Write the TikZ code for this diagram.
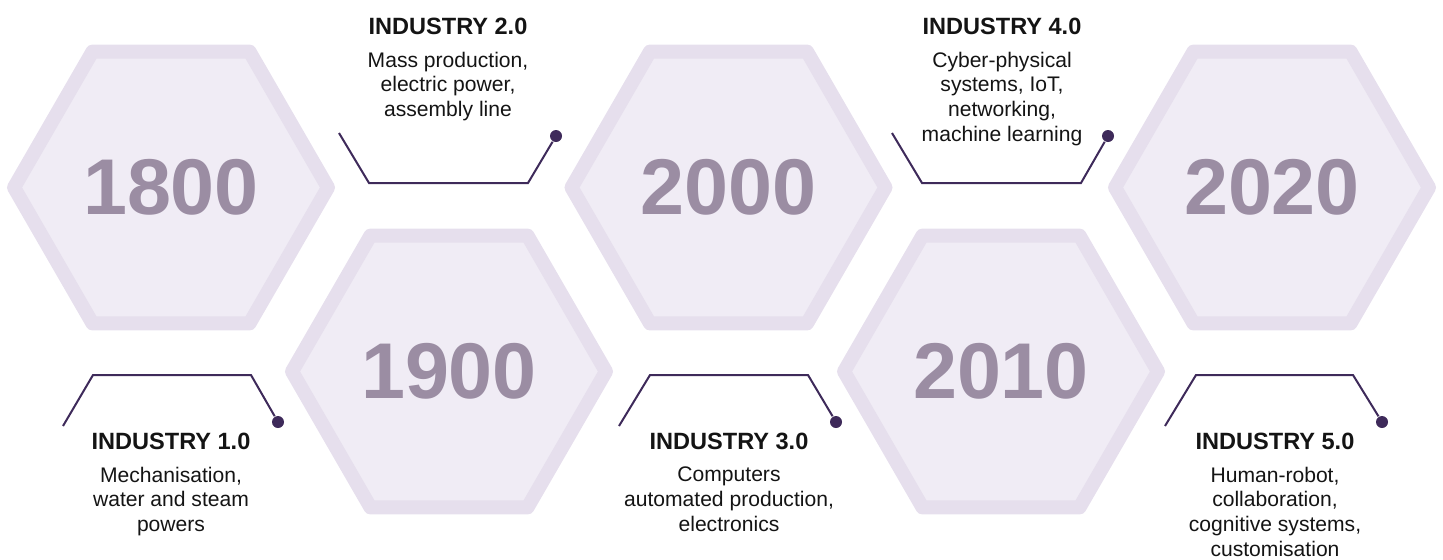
\documentclass[tikz,border=0pt]{standalone}
\usepackage{fontspec}
\setmainfont{Liberation Sans}
\usepackage{xcolor}
\usepackage{tikz}
\usetikzlibrary{shapes.geometric, positioning}
\definecolor{hexborder}{RGB}{230, 223, 237}
\definecolor{hexfill}{RGB}{240, 236, 245}
\definecolor{yeargray}{RGB}{155, 141, 163}
\definecolor{lineplum}{RGB}{62, 42, 90}
\definecolor{textblack}{RGB}{20, 20, 20}

\begin{document}
\begin{tikzpicture}[
    hexagon/.style={regular polygon, regular polygon sides=6, minimum size=3.14cm, inner sep=0pt, draw=hexborder, fill=hexfill, line width=0.14cm, line join=round, text=yeargray, font=\fontsize{22.5}{27}\selectfont\bfseries},
    title/.style={inner sep=0pt, text=textblack, font=\fontsize{6.7}{8}\selectfont\bfseries},
    desc/.style={inner sep=0pt, align=center, text=textblack, font=\fontsize{6.0}{7.0}\selectfont},
    bracket/.style={draw=lineplum, line width=0.02cm},
    dot/.style={circle, fill=lineplum, inner sep=0pt, minimum size=0.12cm}
]
\useasboundingbox (0,0) rectangle (14.43,5.59);

% Year hexagons
\node[hexagon] (y1800) at (1.71,3.715) {1800};
\node[hexagon] (y1900) at (4.49,1.875) {1900};
\node[hexagon] (y2000) at (7.285,3.715) {2000};
\node[hexagon] (y2010) at (10.01,1.875) {2010};
\node[hexagon] (y2020) at (12.72,3.715) {2020};

% Brackets
\coordinate (s1) at (0.63,1.33);
\node[dot] (dot1) at (2.78,1.37) {};
\draw[bracket] (s1) -- ++(0.30,0.51) -- ++(1.58,0) -- (dot1);

\coordinate (s2) at (3.39,4.26);
\node[dot] (dot2) at (5.56,4.23) {};
\draw[bracket] (s2) -- ++(0.30,-0.50) -- ++(1.59,0) -- (dot2);

\coordinate (s3) at (6.19,1.33);
\node[dot] (dot3) at (8.36,1.37) {};
\draw[bracket] (s3) -- ++(0.31,0.51) -- ++(1.58,0) -- (dot3);

\coordinate (s4) at (8.92,4.26);
\node[dot] (dot4) at (11.08,4.23) {};
\draw[bracket] (s4) -- ++(0.30,-0.50) -- ++(1.59,0) -- (dot4);

\coordinate (s5) at (11.65,1.33);
\node[dot] (dot5) at (13.82,1.37) {};
\draw[bracket] (s5) -- ++(0.31,0.51) -- ++(1.57,0) -- (dot5);

% Labels
\node[title, anchor=north] (t1) at (1.71,1.267) {INDUSTRY 1.0};
\node[desc, below=0.16cm of t1] (txt1) {Mechanisation,\\ water and steam\\ powers};

\node[title, anchor=north] (t2) at (4.48,5.417) {INDUSTRY 2.0};
\node[desc, below=0.16cm of t2] (txt2) {Mass production,\\ electric power,\\ assembly line};

\node[title, anchor=north] (t3) at (7.29,1.267) {INDUSTRY 3.0};
\node[desc, below=0.16cm of t3] (txt3) {Computers\\ automated production,\\ electronics};

\node[title, anchor=north] (t4) at (10.02,5.417) {INDUSTRY 4.0};
\node[desc, below=0.16cm of t4] (txt4) {Cyber-physical\\ systems, IoT,\\ networking,\\ machine learning};

\node[title, anchor=north] (t5) at (12.75,1.267) {INDUSTRY 5.0};
\node[desc, below=0.16cm of t5] (txt5) {Human-robot,\\ collaboration,\\ cognitive systems,\\ customisation};
\end{tikzpicture}
\end{document}
